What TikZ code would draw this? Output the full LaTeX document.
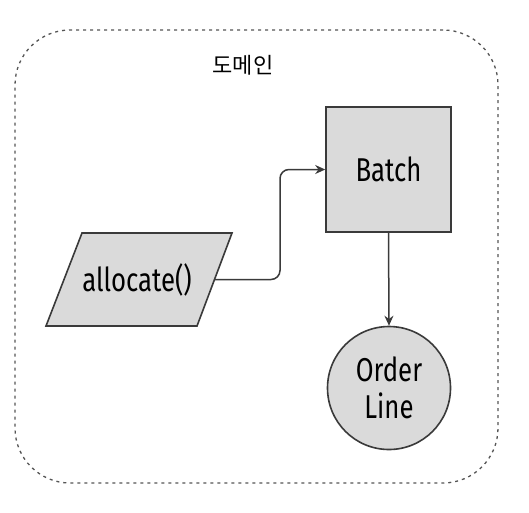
\documentclass[tikz,border=0pt]{standalone}
\usepackage{fontspec}
\setmainfont{Fira Sans}[FakeStretch=0.78]
\newfontfamily\krfont{Noto Sans CJK KR}
\usetikzlibrary{shapes.geometric,arrows.meta}
\definecolor{shapefill}{HTML}{DADADA}
\definecolor{linegray}{HTML}{3A3A3A}
\definecolor{dashgray}{HTML}{555555}
\tikzset{
  shapebox/.style={draw=linegray, line width=1.6pt, fill=shapefill, text=black,
    font=\fontsize{33}{37}\selectfont, inner sep=0pt},
  shapetext/.style={text=black, font=\fontsize{33}{37}\selectfont, inner sep=0pt},
  conn/.style={draw=linegray, line width=1.5pt, -{Stealth[length=10pt,width=9pt]}},
  domainbox/.style={draw=dashgray, line width=1.3pt, dash pattern=on 3pt off 4pt,
    rounded corners=55pt}
}
\begin{document}
\begin{tikzpicture}[x=1pt,y=-1pt]
\useasboundingbox (0,0) rectangle (529,512);
\fill[white] (0,0) rectangle (529,512);
\node[domainbox, minimum width=483pt, minimum height=453pt] (domain) at (256.5,256.5) {};
\node[font=\krfont\fontsize{22}{26}\selectfont, text=black] (title) at (243,65) {도메인};
\node[shapebox, rectangle, minimum width=125pt, minimum height=125pt] (batch) at (388.5,169.5) {Batch};
\node[shapebox, circle, minimum size=123pt, align=center] (line) at (389,388) {Order\\Line};
% parallelogram for allocate()
\filldraw[draw=linegray, line width=1.6pt, fill=shapefill, line join=miter]
  (82,233) -- (232,233) -- (197,326) -- (46,326) -- cycle;
\node[shapetext] (alloc) at (137,279.5) {allocate()};
\coordinate (allocout) at (215,279.5);
\coordinate (bend) at (280,279.5);
\draw[conn, rounded corners=9pt] (allocout) -- (bend) |- (batch.west);
\draw[conn] (batch.south) -- (line.north);
\end{tikzpicture}
\end{document}
